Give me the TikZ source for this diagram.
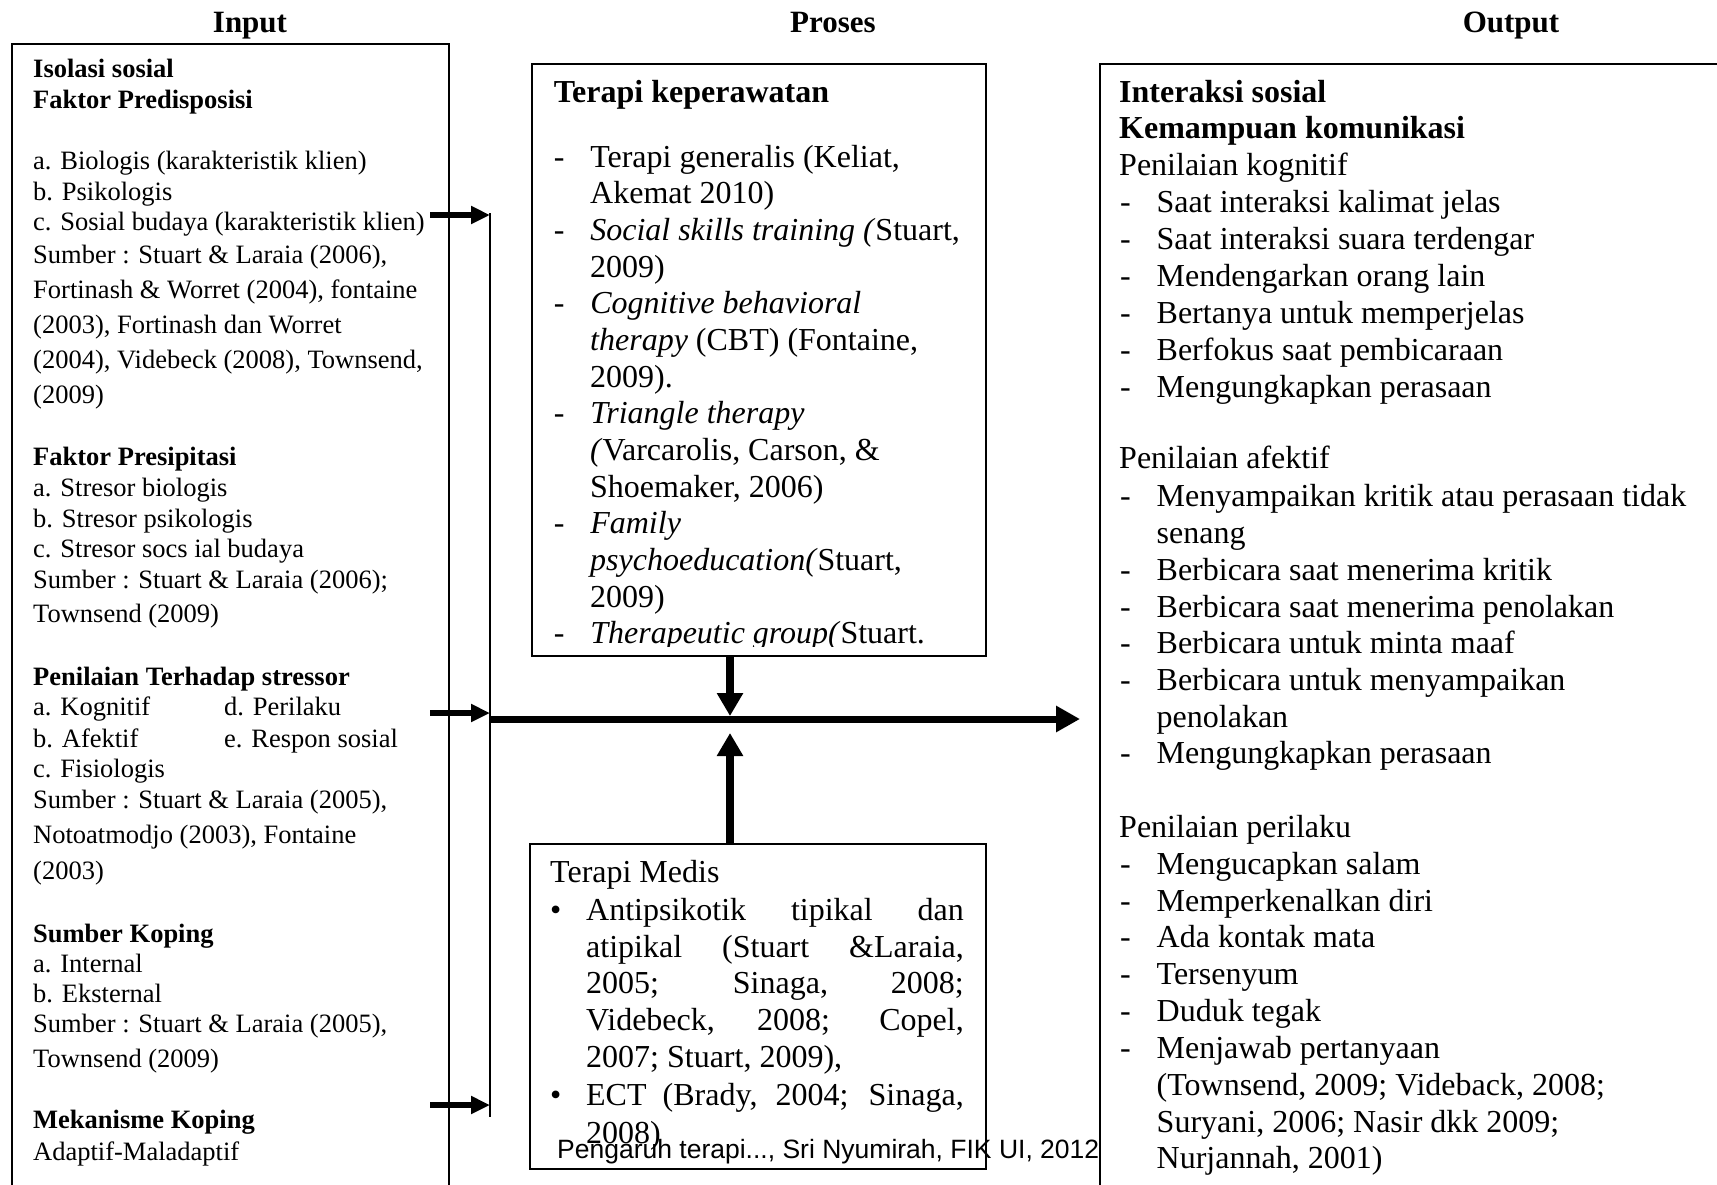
\documentclass[tikz,border=0pt]{standalone}
\usepackage{fontspec}
\setmainfont{Liberation Serif}
\newfontfamily\footfont{Liberation Sans}
\usetikzlibrary{arrows.meta}
\newcommand\DashIt[1]{\hbox to 36.5pt{-\hfil}#1}
\newcommand\BulIt[1]{\hbox to 36pt{\textbullet\hfil}#1}
\newcommand\JLine[1]{\makebox[377.6pt][s]{#1}}
\begin{document}
\begin{tikzpicture}[x=1pt,y=-1pt,
  inp/.style={anchor=base west, inner sep=0pt, font=\fontsize{26.5}{30}\selectfont},
  big/.style={anchor=base west, inner sep=0pt, font=\fontsize{32}{36}\selectfont},
  ttl/.style={anchor=base, inner sep=0pt, font=\fontsize{31}{36}\selectfont\bfseries},
  frame/.style={draw, line width=2pt, inner sep=0pt, anchor=north west},
  thinline/.style={line width=1.6pt},
  inarrow/.style={line width=5.5pt, -{Triangle[length=19pt,width=17pt]}},
  mainarrow/.style={line width=7pt, -{Triangle[length=24pt,width=25pt]}},
  vertarrow/.style={line width=8pt, -{Triangle[length=23pt,width=25pt]}},
]
\useasboundingbox (0,0) rectangle (1717,1184);
\fill[white] (0,0) rectangle (1717,1184);
\clip (0,0) rectangle (1717,1184);

% titles
\node[ttl] (tin) at (250,32) {Input};
\node[ttl] (tpr) at (833,32) {Proses};
\node[ttl] (tout) at (1511,32) {Output};

% frames
\node[frame, minimum width=437pt, minimum height=1200pt] (inbox) at (11,43) {};
\node[frame, minimum width=700pt, minimum height=1200pt] (outbox) at (1099,63) {};
\node[frame, minimum width=454pt, minimum height=592pt] (tk) at (531,63) {};
\node[frame, minimum width=456pt, minimum height=325pt] (tm) at (529,843) {};

% input text
\node[inp] (i1) at (33,77) {\bfseries Isolasi sosial};
\node[inp] (i2) at (33,108) {\bfseries Faktor Predisposisi};
\node[inp] (i3) at (33,169) {a. Biologis (karakteristik klien)};
\node[inp] (i4) at (33,200) {b. Psikologis};
\node[inp] (i5) at (33,230) {c. Sosial budaya (karakteristik klien)};
\node[inp] (i6) at (33,263) {Sumber : Stuart \& Laraia (2006),};
\node[inp] (i7) at (33,298) {Fortinash \& Worret (2004), fontaine};
\node[inp] (i8) at (33,333) {(2003), Fortinash dan Worret};
\node[inp] (i9) at (33,368) {(2004), Videbeck (2008), Townsend,};
\node[inp] (i10) at (33,403) {(2009)};
\node[inp] (i11) at (33,465) {\bfseries Faktor Presipitasi};
\node[inp] (i12) at (33,496) {a. Stresor biologis};
\node[inp] (i13) at (33,527) {b. Stresor psikologis};
\node[inp] (i14) at (33,557) {c. Stresor socs ial budaya};
\node[inp] (i15) at (33,588) {Sumber : Stuart \& Laraia (2006);};
\node[inp] (i16) at (33,622) {Townsend (2009)};
\node[inp] (i17) at (33,685) {\bfseries Penilaian Terhadap stressor};
\node[inp] (i18) at (33,715) {a. Kognitif};
\node[inp] (i18b) at (224,715) {d. Perilaku};
\node[inp] (i19) at (33,747) {b. Afektif};
\node[inp] (i19b) at (224,747) {e. Respon sosial};
\node[inp] (i20) at (33,777) {c. Fisiologis};
\node[inp] (i21) at (33,808) {Sumber : Stuart \& Laraia (2005),};
\node[inp] (i22) at (33,843) {Notoatmodjo (2003), Fontaine};
\node[inp] (i23) at (33,879) {(2003)};
\node[inp] (i24) at (33,942) {\bfseries Sumber Koping};
\node[inp] (i25) at (33,972) {a. Internal};
\node[inp] (i26) at (33,1002) {b. Eksternal};
\node[inp] (i27) at (33,1032) {Sumber : Stuart \& Laraia (2005),};
\node[inp] (i28) at (33,1067) {Townsend (2009)};
\node[inp] (i29) at (33,1128) {\bfseries Mekanisme Koping};
\node[inp] (i30) at (33,1160) {Adaptif-Maladaptif};

% terapi keperawatan text
\begin{scope}
\clip (531,63) rectangle (985,646);
\node[big] (p0) at (553.6,102) {\bfseries Terapi keperawatan};
\node[big] (p1) at (553.6,167) {\DashIt{Terapi generalis (Keliat,}};
\node[big] (p2) at (590,203.6) {Akemat 2010)};
\node[big] (p3) at (553.6,240) {\DashIt{\textit{Social skills training (}Stuart,}};
\node[big] (p4) at (590,277) {2009)};
\node[big] (p5) at (553.6,313.6) {\DashIt{\textit{Cognitive behavioral}}};
\node[big] (p6) at (590,350) {\textit{therapy} (CBT) (Fontaine,};
\node[big] (p7) at (590,387) {2009).};
\node[big] (p8) at (553.6,423) {\DashIt{\textit{Triangle therapy}}};
\node[big] (p9) at (590,460) {\textit{(}Varcarolis, Carson, \&};
\node[big] (p10) at (590,497) {Shoemaker, 2006)};
\node[big] (p11) at (553.6,533) {\DashIt{\textit{Family}}};
\node[big] (p12) at (590,570) {\textit{psychoeducation(}Stuart,};
\node[big] (p13) at (590,607) {2009)};
\node[big] (p14) at (553.6,643) {\DashIt{\textit{Therapeutic group(}Stuart.}};
\end{scope}

% terapi medis text
\node[big] (m0) at (550,882) {Terapi Medis};
\node[big] (m1) at (550,920) {\BulIt{\JLine{Antipsikotik tipikal dan}}};
\node[big] (m2) at (586,957) {\JLine{atipikal (Stuart \&Laraia,}};
\node[big] (m3) at (586,993) {\JLine{2005; Sinaga, 2008;}};
\node[big] (m4) at (586,1030) {\JLine{Videbeck, 2008; Copel,}};
\node[big] (m5) at (586,1067) {2007; Stuart, 2009),};
\node[big] (m6) at (550,1105) {\BulIt{\JLine{ECT (Brady, 2004; Sinaga,}}};
\node[big] (m7) at (586,1143) {2008)};

% output text
\node[big] (o1) at (1119,102) {\bfseries Interaksi sosial};
\node[big] (o2) at (1119,138) {\bfseries Kemampuan komunikasi};
\node[big] (o3) at (1119,175) {Penilaian kognitif};
\node[big] (o4) at (1120,212) {\DashIt{Saat interaksi kalimat jelas}};
\node[big] (o5) at (1120,249) {\DashIt{Saat interaksi suara terdengar}};
\node[big] (o6) at (1120,286) {\DashIt{Mendengarkan orang lain}};
\node[big] (o7) at (1120,323) {\DashIt{Bertanya untuk memperjelas}};
\node[big] (o8) at (1120,360) {\DashIt{Berfokus saat pembicaraan}};
\node[big] (o9) at (1120,397) {\DashIt{Mengungkapkan perasaan}};
\node[big] (o10) at (1119,468) {Penilaian afektif};
\node[big] (o11) at (1120,506) {\DashIt{Menyampaikan kritik atau perasaan tidak}};
\node[big] (o12) at (1156.5,543) {senang};
\node[big] (o13) at (1120,580) {\DashIt{Berbicara saat menerima kritik}};
\node[big] (o14) at (1120,617) {\DashIt{Berbicara saat menerima penolakan}};
\node[big] (o15) at (1120,653) {\DashIt{Berbicara untuk minta maaf}};
\node[big] (o16) at (1120,690) {\DashIt{Berbicara untuk menyampaikan}};
\node[big] (o17) at (1156.5,727) {penolakan};
\node[big] (o18) at (1120,763) {\DashIt{Mengungkapkan perasaan}};
\node[big] (o19) at (1119,837) {Penilaian perilaku};
\node[big] (o20) at (1120,874) {\DashIt{Mengucapkan salam}};
\node[big] (o21) at (1120,911) {\DashIt{Memperkenalkan diri}};
\node[big] (o22) at (1120,947) {\DashIt{Ada kontak mata}};
\node[big] (o23) at (1120,984) {\DashIt{Tersenyum}};
\node[big] (o24) at (1120,1021) {\DashIt{Duduk tegak}};
\node[big] (o25) at (1120,1058) {\DashIt{Menjawab pertanyaan}};
\node[big] (o26) at (1156.5,1095) {(Townsend, 2009; Videback, 2008;};
\node[big] (o27) at (1156.5,1132) {Suryani, 2006; Nasir dkk 2009;};
\node[big] (o28) at (1156.5,1168) {Nurjannah, 2001)};

% connectors
\coordinate (vtop) at (490,213);
\coordinate (vbot) at (490,1117);
\draw[thinline] (vtop) -- (vbot);
\coordinate (a1) at (430,215);
\coordinate (a2) at (430,713);
\coordinate (a3) at (430,1105);
\draw[inarrow] (a1) -- (a1 -| vtop);
\draw[inarrow] (a2) -- (a2 -| vtop);
\draw[inarrow] (a3) -- (a3 -| vtop);
\coordinate (mstart) at (490,719);
\coordinate (mend) at (1080,719);
\draw[mainarrow] (mstart) -- (mend);
\coordinate (dtip) at (730,716);
\coordinate (utip) at (730,733);
\draw[vertarrow] (dtip |- tk.south) -- (dtip);
\draw[vertarrow] (utip |- tm.north) -- (utip);

% footer
\node[anchor=base west, inner sep=0pt, font=\footfont\fontsize{26.5}{30}\selectfont] (foot) at (557,1158) {Pengaruh terapi..., Sri Nyumirah, FIK UI, 2012};
\end{tikzpicture}
\end{document}
